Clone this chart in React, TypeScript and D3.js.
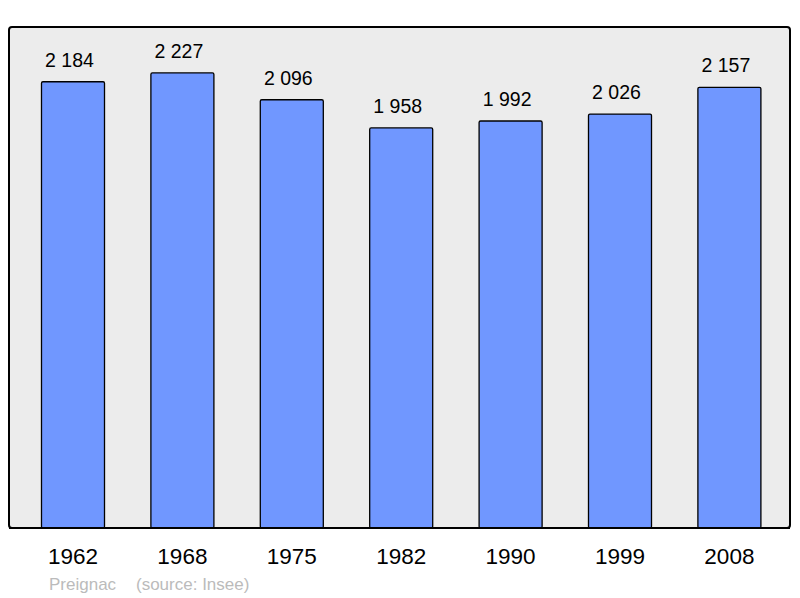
import { useRef, useEffect } from 'react'
import * as d3 from 'd3'

const years = ['1962', '1968', '1975', '1982', '1990', '1999', '2008']
const population = [2184, 2227, 2096, 1958, 1992, 2026, 2157]
const commune = 'Preignac'
const source = '(source: Insee)'

const fmt = (v: number) => d3.format(',')(v).replace(/,/g, ' ')

const App = () => {
  const svgRef = useRef<SVGSVGElement | null>(null)

  useEffect(() => {
    const svg = d3.select(svgRef.current)
    svg.selectAll('*').remove()

    const width = 800
    const height = 598
    const panel = { left: 9, top: 27, right: 790, bottom: 528 }
    const font = '"Liberation Sans", Arial, sans-serif'

    svg.attr('width', width).attr('height', height).attr('viewBox', `0 0 ${width} ${height}`)

    svg
      .append('rect')
      .attr('x', panel.left)
      .attr('y', panel.top)
      .attr('width', panel.right - panel.left)
      .attr('height', panel.bottom - panel.top)
      .attr('rx', 3)
      .attr('fill', '#ececec')
      .attr('stroke', '#000')
      .attr('stroke-width', 2)

    const xScale = d3
      .scaleBand<string>()
      .domain(years)
      .range([18.3, 784.1])
      .paddingInner(0.424)
      .paddingOuter(0.212)

    const yScale = d3
      .scaleLinear()
      .domain([0, 2452])
      .range([panel.bottom, panel.top])

    const data = years.map((year, i) => ({ year, value: population[i] }))

    svg
      .selectAll('rect.bar')
      .data(data)
      .join('rect')
      .attr('class', 'bar')
      .attr('x', (d) => xScale(d.year)!)
      .attr('y', (d) => yScale(d.value))
      .attr('width', xScale.bandwidth())
      .attr('height', (d) => panel.bottom - yScale(d.value))
      .attr('rx', 1.5)
      .attr('fill', '#7097ff')
      .attr('stroke', '#000')
      .attr('stroke-width', 1.3)

    // redraw the panel's bottom edge over the bars
    svg
      .append('line')
      .attr('x1', panel.left)
      .attr('x2', panel.right)
      .attr('y1', panel.bottom)
      .attr('y2', panel.bottom)
      .attr('stroke', '#000')
      .attr('stroke-width', 2)

    svg
      .selectAll('text.value')
      .data(data)
      .join('text')
      .attr('class', 'value')
      .attr('x', (d) => xScale(d.year)! + xScale.bandwidth() / 2 - 3.5)
      .attr('y', (d) => yScale(d.value) - 15)
      .attr('text-anchor', 'middle')
      .attr('font-family', font)
      .attr('font-size', 19.5)
      .attr('fill', '#000')
      .text((d) => fmt(d.value))

    svg
      .selectAll('text.year')
      .data(data)
      .join('text')
      .attr('class', 'year')
      .attr('x', (d) => xScale(d.year)! + xScale.bandwidth() / 2)
      .attr('y', 564)
      .attr('text-anchor', 'middle')
      .attr('font-family', font)
      .attr('font-size', 22.5)
      .attr('fill', '#000')
      .text((d) => d.year)

    svg
      .append('text')
      .attr('x', 49)
      .attr('y', 590)
      .attr('font-family', font)
      .attr('font-size', 17)
      .attr('fill', '#bbbbbb')
      .text(commune)

    svg
      .append('text')
      .attr('x', 136)
      .attr('y', 590)
      .attr('font-family', font)
      .attr('font-size', 17)
      .attr('fill', '#bbbbbb')
      .text(source)
  }, [])

  return (
    <div style={{ position: 'absolute', left: 0, top: 0 }}>
      <svg ref={svgRef} style={{ display: 'block' }} />
    </div>
  )
}

export default App
